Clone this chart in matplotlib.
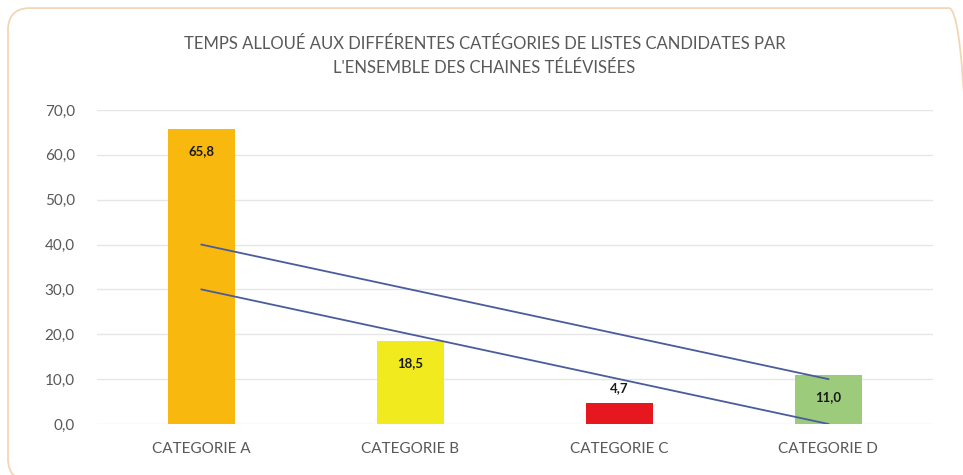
import numpy as np
import matplotlib.pyplot as plt
from matplotlib.patches import FancyBboxPatch

categories = ['CATEGORIE A', 'CATEGORIE B', 'CATEGORIE C', 'CATEGORIE D']
values = [65.8, 18.5, 4.7, 11.0]
colors = ['#F9B80E', '#F0EA1E', '#E6171E', '#9DCB7C']
line_upper = [40.0, 10.0]
line_lower = [30.0, 0.0]
yticks = [0, 10, 20, 30, 40, 50, 60, 70]

plt.rcParams['font.family'] = ['Lato', 'DejaVu Sans']
grey = '#595959'

fig = plt.figure(figsize=(9.63, 4.75), dpi=100)
fig.patches.append(FancyBboxPatch((0.0083, -0.012), 1.0, 0.995,
                                  boxstyle='round,pad=0,rounding_size=0.023',
                                  transform=fig.transFigure, fill=False,
                                  edgecolor='#F3D6B4', linewidth=1.3,
                                  mutation_aspect=963 / 475))

ax = fig.add_axes([0.1007, 0.1074, 0.868, 0.661])
x = np.arange(len(categories))
bars = ax.bar(x, values, width=0.32, color=colors, zorder=2)

# the two hand drawn lines
ax.plot([x[0], x[-1]], line_upper, color='#4B5C9C', lw=1.3, zorder=3)
ax.plot([x[0], x[-1]], line_lower, color='#4B5C9C', lw=1.3, zorder=3)

for i, v in enumerate(values):
    txt = '{:.1f}'.format(v).replace('.', ',')
    if v > 8:
        ax.text(x[i], v - 5, txt, ha='center', va='center',
                fontsize=9.5, fontweight='bold', color='#1a1a1a', zorder=4)
    else:
        ax.text(x[i], v + 3.3, txt, ha='center', va='center',
                fontsize=9.5, fontweight='bold', color='#1a1a1a', zorder=4)

ax.set_xlim(-0.5, 3.5)
ax.set_ylim(0, 70)
ax.set_yticks(yticks)
ax.set_yticklabels(['{:.1f}'.format(t).replace('.', ',') for t in yticks],
                   fontsize=11, color=grey)
ax.set_xticks(x)
ax.set_xticklabels(categories, fontsize=11, color=grey)
ax.tick_params(length=0, pad=13)
ax.tick_params(axis='y', pad=16)
ax.grid(axis='y', color='#E6E6E6', lw=1, zorder=0)
for s in ax.spines.values():
    s.set_visible(False)

fig.text(0.503, 0.882, 'TEMPS ALLOUÉ AUX DIFFÉRENTES CATÉGORIES DE LISTES CANDIDATES PAR\n'
         "L'ENSEMBLE DES CHAINES TÉLÉVISÉES", ha='center', va='center',
         fontsize=12, color=grey, linespacing=1.6)

fig.savefig('out.png', dpi=100)
